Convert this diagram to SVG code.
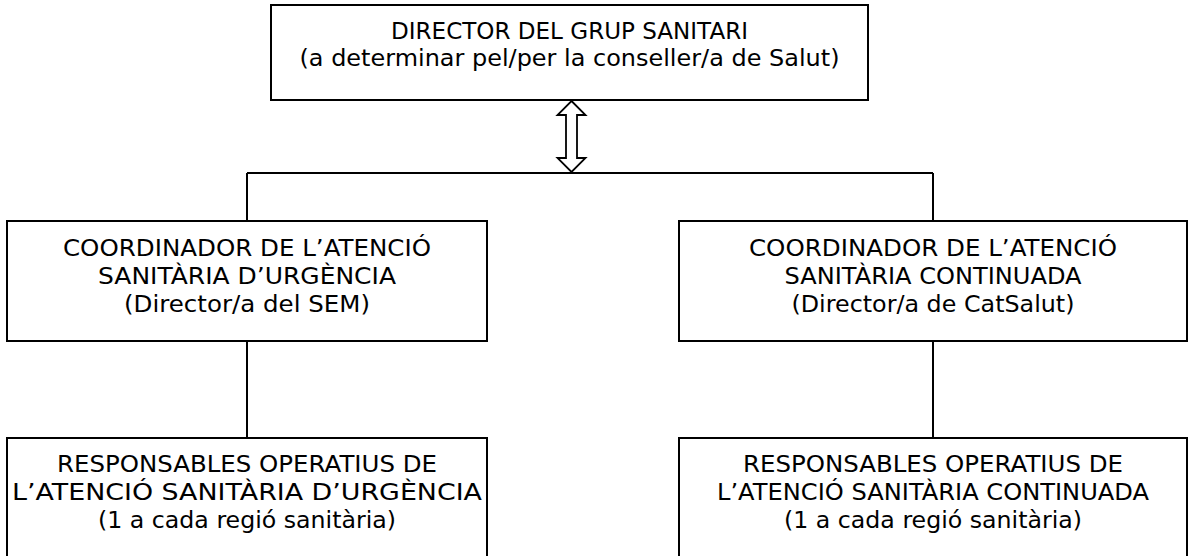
<svg xmlns="http://www.w3.org/2000/svg" width="1203" height="556" viewBox="0 0 1203 556">
<style>
.box{fill:#fff;stroke:#000;stroke-width:2}
.ln{fill:none;stroke:#000;stroke-width:2}
.t{font-family:"DejaVu Sans",Verdana,sans-serif;font-size:22.5px;fill:#000;text-anchor:middle}
</style>
<rect width="1203" height="556" fill="#fff"/>
<g id="connectors">
<path class="ln" d="M247,173 H933 M247,173 V221 M933,173 V221 M247,341 V438 M933,341 V438"/>
<path d="M571.5,101 L585.5,115 L577,115 L577,158 L585.5,158 L571.5,172 L557.5,158 L566,158 L566,115 L557.5,115 Z" fill="#fff" stroke="#000" stroke-width="1.8" stroke-linejoin="miter"/>
</g>
<g id="director">
<rect class="box" x="271" y="5" width="597" height="95"/>
<text class="t" x="569.5" y="39" textLength="357" lengthAdjust="spacingAndGlyphs">DIRECTOR DEL GRUP SANITARI</text>
<text class="t" x="569.5" y="66" textLength="540" lengthAdjust="spacingAndGlyphs">(a determinar pel/per la conseller/a de Salut)</text>
</g>
<g id="coord-urgencia">
<rect class="box" x="7" y="221" width="480" height="120"/>
<text class="t" x="247" y="255.5" textLength="368" lengthAdjust="spacingAndGlyphs">COORDINADOR DE L’ATENCIÓ</text>
<text class="t" x="247" y="283.5" textLength="298" lengthAdjust="spacingAndGlyphs">SANITÀRIA D’URGÈNCIA</text>
<text class="t" x="247" y="311.5" textLength="246" lengthAdjust="spacingAndGlyphs">(Director/a del SEM)</text>
</g>
<g id="coord-continuada">
<rect class="box" x="679" y="221" width="508" height="120"/>
<text class="t" x="933" y="255.5" textLength="368" lengthAdjust="spacingAndGlyphs">COORDINADOR DE L’ATENCIÓ</text>
<text class="t" x="933" y="283.5" textLength="297" lengthAdjust="spacingAndGlyphs">SANITÀRIA CONTINUADA</text>
<text class="t" x="933" y="311.5" textLength="283" lengthAdjust="spacingAndGlyphs">(Director/a de CatSalut)</text>
</g>
<g id="resp-urgencia">
<rect class="box" x="7" y="438" width="480" height="140"/>
<text class="t" x="247" y="471.5" textLength="380" lengthAdjust="spacingAndGlyphs">RESPONSABLES OPERATIUS DE</text>
<text class="t" x="247" y="499.5" textLength="470" lengthAdjust="spacingAndGlyphs">L’ATENCIÓ SANITÀRIA D’URGÈNCIA</text>
<text class="t" x="247" y="527.5" textLength="298" lengthAdjust="spacingAndGlyphs">(1 a cada regió sanitària)</text>
</g>
<g id="resp-continuada">
<rect class="box" x="679" y="438" width="508" height="140"/>
<text class="t" x="933" y="471.5" textLength="380" lengthAdjust="spacingAndGlyphs">RESPONSABLES OPERATIUS DE</text>
<text class="t" x="933" y="499.5" textLength="432" lengthAdjust="spacingAndGlyphs">L’ATENCIÓ SANITÀRIA CONTINUADA</text>
<text class="t" x="933" y="527.5" textLength="298" lengthAdjust="spacingAndGlyphs">(1 a cada regió sanitària)</text>
</g>
</svg>
